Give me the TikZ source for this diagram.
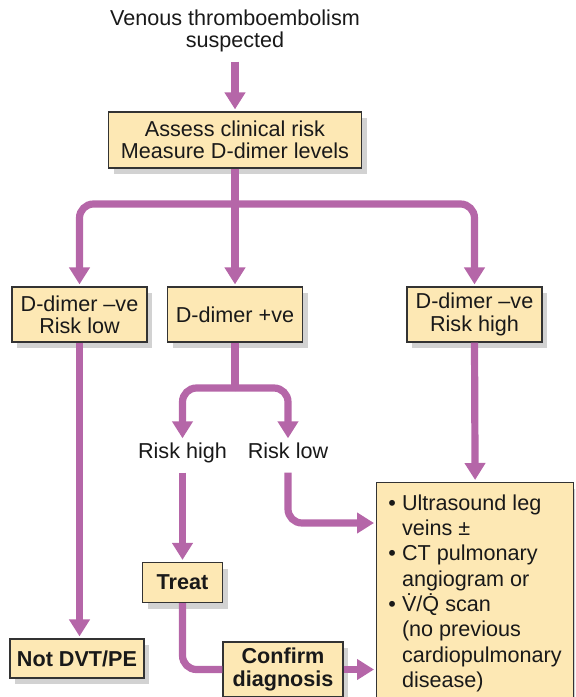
\documentclass[tikz,border=0pt]{standalone}
\usepackage{fontspec}
\setmainfont{Liberation Sans}
\usepackage{tikz}
\usetikzlibrary{arrows.meta, shadows}
\definecolor{flowPurple}{HTML}{B566A8}
\definecolor{boxYellow}{HTML}{FDE8B4}
\newcommand\flowWidth{3.6pt}
\newcommand\boxFont{\fontsize{10.8}{11.2}\selectfont}
\newcommand\listFont{\fontsize{10.8}{12.65}\selectfont}
\newcommand\pad{\phantom{\textbullet\ }}

\begin{document}
\begin{tikzpicture}[x=0.5pt, y=-0.5pt,
    box/.style={draw=black!80, line width=0.6pt, fill=boxYellow, align=center, inner sep=1pt,
        font=\boxFont, text=black!90,
        drop shadow={shadow xshift=2.5pt, shadow yshift=-3pt, opacity=0.25, fill=black!70}},
    boldbox/.style={box, font=\boxFont\bfseries},
    plain/.style={align=center, inner sep=2pt, font=\boxFont, text=black!90},
    risk/.style={plain, text height=8pt, text depth=2.3pt},
    flow/.style={draw=flowPurple, line width=\flowWidth, rounded corners=7pt,
        -{Triangle[width=10pt, length=8.5pt]}},
    flowline/.style={draw=flowPurple, line width=\flowWidth, rounded corners=7pt}]
        \clip (0,0) rectangle (575,697);

        \node[plain] (venous) at (235,31) {Venous thromboembolism\\suspected};
        \node[box, minimum width=126.5pt, minimum height=28pt] (assess) at (235,140) {Assess clinical risk\\Measure D-dimer levels};

        \node[box, minimum width=67.5pt, minimum height=27.5pt] (lowneg) at (79.5,314.5) {D-dimer --ve\\Risk low};
        \node[box, minimum width=67.5pt, minimum height=27.5pt] (plus) at (235,314.5) {D-dimer +ve};
        \node[box, minimum width=67.5pt, minimum height=27.5pt] (highneg) at (474.5,314.5) {D-dimer --ve\\Risk high};

        \node[risk] (riskhigh) at (182.5,453) {Risk high};
        \node[risk] (risklow) at (288,453) {Risk low};

        \node[boldbox, minimum width=40pt, minimum height=20pt] (treat) at (182.5,582.5) {Treat};
        \node[boldbox, minimum width=67pt, minimum height=19.5pt] (notdvt) at (77,658.5) {Not DVT/PE};
        \node[boldbox, minimum width=60pt, minimum height=27.5pt, font=\fontsize{10.8}{11.5}\selectfont\bfseries] (confirm) at (283,669.5) {Confirm\\diagnosis};

        \node[box, anchor=north west, minimum width=98.5pt, align=left, inner xsep=4.5pt, inner ysep=6pt,
            font=\listFont] (tests) at (376,482)
            {\textbullet\ Ultrasound leg\\\pad veins ±\\\textbullet\ CT pulmonary\\\pad angiogram or\\
             \textbullet\ \.{V}/\.{Q} scan\\\pad (no previous\\\pad cardiopulmonary\\\pad disease)\rule[-14pt]{0pt}{14pt}};

        \coordinate (split) at (235,204);
        \coordinate (split2) at (235,388);

        \draw[flow, shorten <=2.5pt, shorten >=1pt] (venous.south) -- (assess.north);
        \draw[flow, shorten >=1pt] (assess.south) -- (plus.north);
        \draw[flow, shorten >=1pt] (split) -| (lowneg.north);
        \draw[flow, shorten >=1pt] (split) -| (highneg.north);

        \draw[flow, shorten >=1pt] (lowneg.south) -- (lowneg.south |- notdvt.north);
        \draw[flowline] (plus.south) -- (split2);
        \draw[flow] (split2) -| (riskhigh.north);
        \draw[flow] (split2) -| (risklow.north);

        \draw[flow, shorten <=2.5pt, shorten >=1pt] (riskhigh.south) -- (treat.north);
        \draw[flow, shorten <=2.5pt, shorten >=1pt] (risklow.south) |- ([yshift=-20.5pt]tests.north west);
        \draw[flowline] (treat.south) |- (confirm.west);
        \draw[flow, shorten >=1pt] (confirm.east) -- (tests.west |- confirm.east);
        \draw[flow, shorten >=1pt] (highneg.south) -- (tests.north);

    \end{tikzpicture}
\end{document}
